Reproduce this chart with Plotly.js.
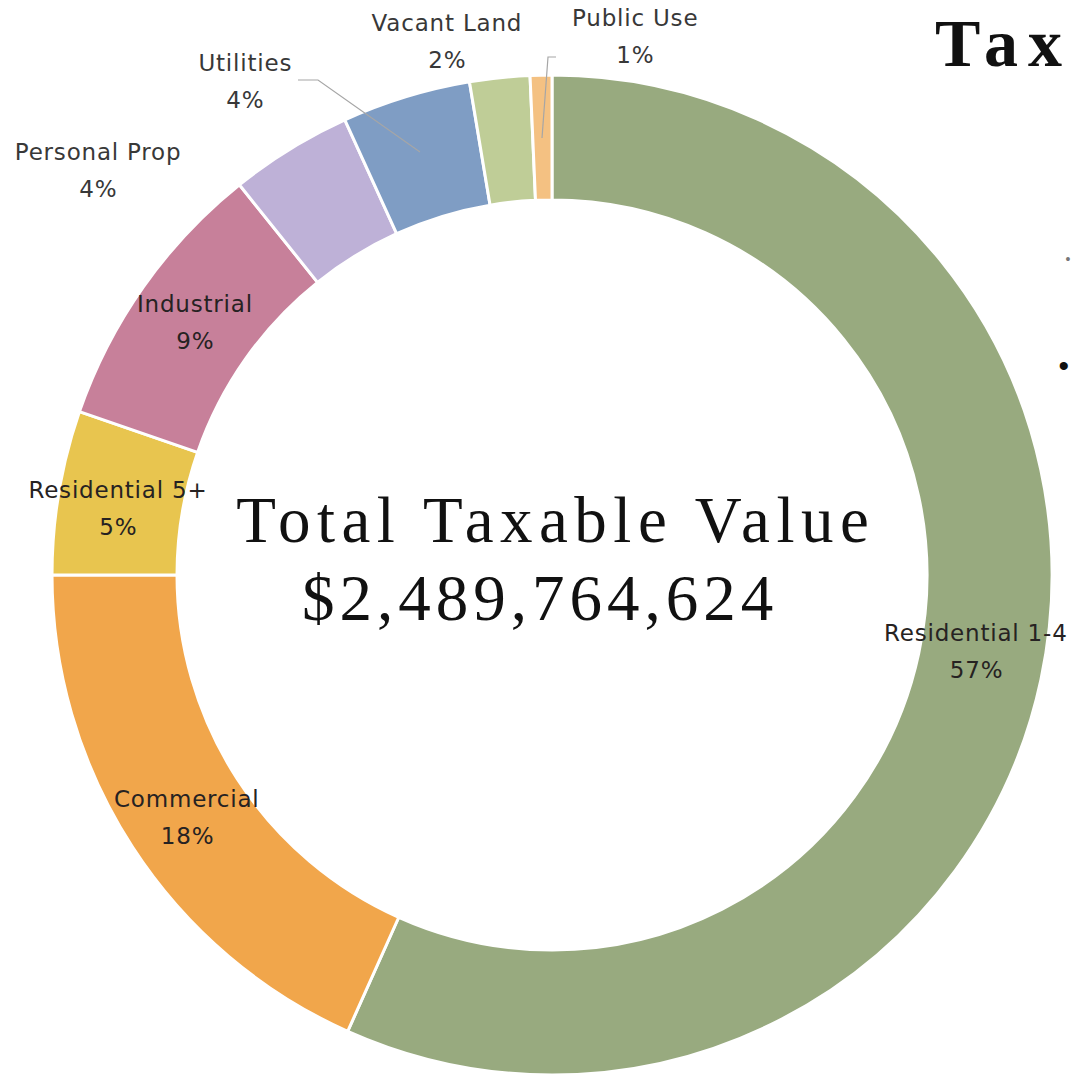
<!DOCTYPE html>
<html>
<head>
<meta charset="utf-8">
<script src="https://cdn.plot.ly/plotly-3.0.1.min.js"></script>
<style>
  html, body { margin: 0; padding: 0; background: #fff; }
  #chart { width: 1072px; height: 1076px; }
  .annotation text { letter-spacing: 0.8px; }
  .annotation[data-index="0"] text { letter-spacing: 6.5px; }
  .annotation[data-index="1"] text { letter-spacing: 5px; }
  .annotation[data-index="2"] text { letter-spacing: 10px; }
</style>
</head>
<body>
<div id="chart"></div>
<script>
const categories = ['Residential 1-4', 'Commercial', 'Residential 5+', 'Industrial',
  'Personal Prop', 'Utilities', 'Vacant Land', 'Public Use'];
const shares = [56.7, 18.3, 5.3, 8.95, 3.95, 4.16, 1.94, 0.7];
const colors = ['#98aa7f', '#f1a64b', '#e8c54f', '#c7809a', '#beb1d7', '#7f9dc4', '#bfcd97', '#f4c182'];
const totalLabel = 'Total Taxable Value';
const totalValue = '$2,489,764,624';

const W = 1072, H = 1076;
const px = (x) => x / W;
const py = (y) => 1 - y / H;

// label spots (pixel centres of the name line) for each slice, in category order
const labelSpots = [[976, 633], [187, 799], [118, 490], [195, 304], [98, 152], [245, 63], [447, 23], [635, 18]];

const total = shares.reduce((a, b) => a + b, 0);
const pct = shares.map((v) => Math.round((v / total) * 100) + '%');

const trace = {
  type: 'pie',
  labels: categories,
  values: shares,
  sort: false,
  direction: 'clockwise',
  rotation: 0,
  hole: 0.75,
  textinfo: 'none',
  hoverinfo: 'label+percent',
  marker: { colors: colors, line: { color: '#ffffff', width: 3 } },
  domain: { x: [px(52), px(1052)], y: [py(1075), py(75)] },
  showlegend: false
};

const note = (x, y, text, font) => ({
  x: px(x), y: py(y), xref: 'paper', yref: 'paper', text: text, showarrow: false,
  xanchor: 'center', yanchor: 'middle', font: font
});

const annotations = [
  note(556, 520, totalLabel, { family: 'Liberation Serif, serif', size: 65, color: '#111' }),
  note(540, 598, totalValue, { family: 'Liberation Serif, serif', size: 65, color: '#111' }),
  Object.assign(note(948, 43, '<b>Tax</b>', { family: 'Liberation Serif, serif', size: 68, color: '#111' }), { xanchor: 'left' }),
  note(1064, 365, '•', { family: 'Liberation Sans, sans-serif', size: 30, color: '#111' }),
  note(1068, 259, '•', { family: 'Liberation Sans, sans-serif', size: 14, color: '#777' })
];

categories.forEach((c, i) => {
  const [lx, ly] = labelSpots[i];
  const col = i < 4 ? '#262222' : '#383838';
  const f = { family: 'DejaVu Sans, sans-serif', size: 23, color: col };
  annotations.push(note(lx, ly, c, f));
  annotations.push(note(lx, ly + 37, pct[i], f));
});

const leader = (pts) => ({
  type: 'path', xref: 'paper', yref: 'paper',
  path: pts.map((p, k) => (k ? 'L' : 'M') + px(p[0]) + ',' + py(p[1])).join(' '),
  line: { color: '#a6a6a6', width: 1.2 }
});

const layout = {
  width: W,
  height: H,
  margin: { t: 0, l: 0, r: 0, b: 0 },
  paper_bgcolor: '#ffffff',
  plot_bgcolor: '#ffffff',
  annotations: annotations,
  shapes: [
    leader([[298, 80], [318, 80], [420, 152]]),
    leader([[556, 57], [548, 57], [542, 138]])
  ]
};

Plotly.newPlot('chart', [trace], layout, { displayModeBar: false });
</script>
</body>
</html>
